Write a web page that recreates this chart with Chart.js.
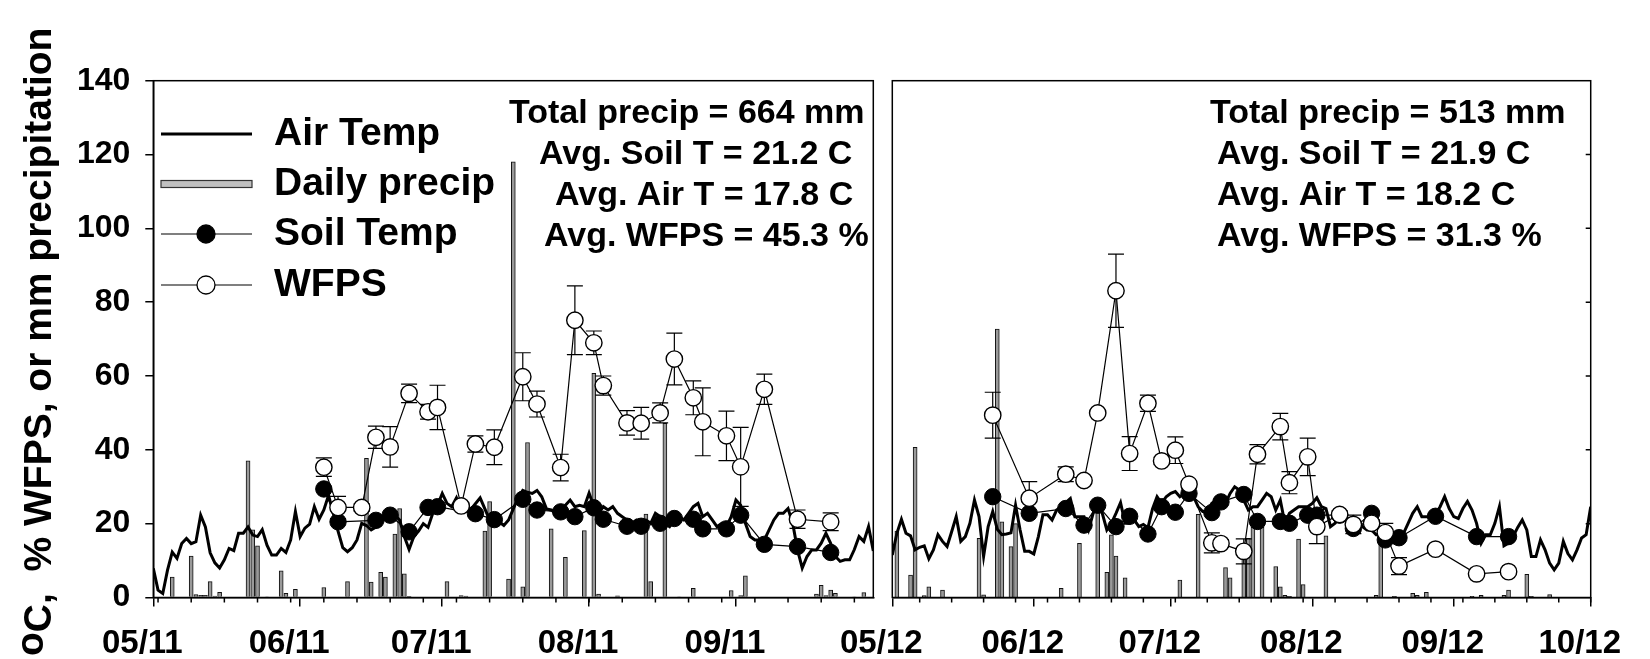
<!DOCTYPE html>
<html>
<head>
<meta charset="utf-8">
<script src="https://cdn.jsdelivr.net/npm/chart.js@4/dist/chart.umd.min.js"></script>
<style>
  html, body { margin: 0; padding: 0; background: #fff; }
  #wrap { position: relative; width: 1650px; height: 659px; }
  #wrap canvas { position: absolute; left: 0; top: 0; }
</style>
</head>
<body>
<div id="wrap">
  <canvas id="c2011" width="1650" height="659"></canvas>
  <canvas id="c2012" width="1650" height="659"></canvas>
</div>
<script>
// day 0 = May 1 of each year
const airTemp2011 = [7.9,2.0,1.1,7.4,12.3,10.6,14.6,16.0,14.6,15.1, 22.3,19.1,12.1,9.4,8.0,10.2,13.3,12.7,17.4,17.4,
  19.1,16.9,16.5,18.4,14.2,11.5,11.5,13.3,12.2,15.6, 23.3,16.5,18.8,19.9,24.6,21.2,23.7,27.7,22.8,18.0,
  13.5,12.4,13.5,15.6,20.1,19.5,18.3,19.1,20.5,21.8, 22.7,22.3,21.0,16.5,13.0,16.5,18.0,20.0,19.0,22.8,
  25.0,28.2,25.5,24.6,27.0,23.8,25.2,23.8,25.4,27.0, 24.0,21.0,19.5,20.5,19.5,21.0,24.0,27.0,29.0,28.5,
  28.2,29.0,27.3,24.0,23.7,22.8,23.5,25.0,26.4,24.6, 25.0,24.6,28.3,24.6,22.8,24.6,23.7,24.6,22.8,21.9,
  21.0,20.1,21.0,20.1,21.0,20.1,22.8,21.9,20.1,19.2, 21.0,21.9,21.0,22.8,24.6,25.5,21.9,22.8,21.0,19.2,
  20.1,19.2,21.9,26.4,25.0,20.1,16.5,15.6,15.6,15.6, 18.3,21.0,22.8,22.8,24.1,20.0,12.9,8.0,11.1,12.9,
  12.9,14.7,17.4,14.7,11.1,9.8,10.2,10.2,13.0,16.5, 15.2,19.2,12.6];
const airTemp2012 = [11.5,17.4,21.2,17.4,16.7,12.9,13.6,14.0,10.5,12.9, 17.0,15.2,13.8,17.8,21.9,15.2,16.5,20.1,26.4,21.9,
  11.1,19.2,23.3,18.5,17.0,17.2,17.5,25.0,18.3,12.5, 12.5,11.8,16.5,22.4,22.4,21.0,23.7,24.6,25.7,26.8,
  21.9,21.9,21.9,18.3,22.8,25.5,22.8,18.3,20.1,22.8, 25.7,20.1,20.1,21.0,19.2,19.8,18.9,24.0,27.3,25.5,
  27.3,28.2,28.7,27.3,28.2,27.3,27.3,24.6,23.3,23.3, 25.5,26.4,24.6,25.5,28.2,30.0,29.1,26.4,23.7,24.6,
  24.6,26.4,28.2,27.3,23.7,26.4,20.1,22.8,23.7,24.6, 24.6,24.6,25.5,27.0,24.6,24.1,19.2,20.1,21.9,22.8,
  21.0,21.9,21.0,19.2,18.3,18.3,17.0,17.0,16.5,15.6, 14.7,15.6,17.4,20.1,22.8,24.6,21.9,21.9,21.9,22.5,
  24.6,27.3,24.1,21.9,21.4,24.1,26.0,23.7,20.1,14.7, 17.0,17.0,20.1,24.6,14.0,14.7,16.5,19.0,21.0,18.3,
  11.1,11.1,15.6,12.9,9.3,7.5,9.3,15.2,11.9,10.2, 12.9,16.1,17.0,24.6];

const precipDays2011 = [4,8,9,10,11,12,13,14,20,21,22,24,27,28,30,36,41,45,46,48,49,51,52,53,54,62,65,66,70,71,
  75,76,78,79,84,87,91,93,94,98,104,105,108,111,114,122,124,125,140,141,142,143,144,148,150];
const precip2011 = [5.5,11.2,0.8,0.6,0.6,4.3,0.4,1.4,37,18.3,14,0.2,7.2,1.1,2.2,2.7,4.3,37.7,4.2,6.8,5.5,17.2,24.1,6.4,0.3,4.3,0.5,0.4,18,26,
  5,118,2.9,42,18.6,10.9,18.1,60.7,0.9,0.45,22.6,4.3,47.2,0.2,2.5,1.9,0.5,5.9,0.9,3.3,0.5,2.0,1.1,0.2,1.3];
const precipDays2012 = [1,4,5,7,8,11,19,20,23,24,26,27,37,41,45,47,48,49,51,63,67,73,74,77,78,79,81,84,85,86,87,89,90,
  95,106,107,110,114,115,117,127,129,134,135,139,140,144];
const precip2012 = [18,6.1,40.7,0.5,2.9,2.0,16,0.7,72.7,20.5,13.8,20,2.5,14.7,26.7,6.8,17,11.2,5.3,4.7,22.5,8.1,5.3,11,16,19,19,8.4,2.9,0.6,0.3,15.8,3.5,
  16.7,0.6,16,0.3,1.1,0.6,1.4,0.3,0.6,0.6,2,6.3,0.3,0.8];

const sampleDays2011 = [36,39,44,47,50,54,58,60,65,68,72,78,81,86,89,93,95,100,103,107,110,114,116,121,124,129,136,143];
const soilTemp2011 = [29.4,20.5,null,20.9,22.3,17.8,24.4,24.6,null,22.7,21.1,26.6,23.7,23.2,21.9,24.3,21.2,19.3,19.3,20.1,21.4,21.2,18.6,18.6,22.3,14.4,13.8,12.2];
const wfps2011 = [35.3,24.4,24.4,43.4,40.8,55.3,50.3,51.5,24.8,41.6,40.7,59.8,52.4,35.2,75.1,69.0,57.4,47.3,47.2,50.0,64.6,54.1,47.6,43.8,35.4,56.4,21.2,20.5];
const wfpsErr2011 = [2.5,3,1,3,5.5,2.5,2,6,1,2.2,4.7,6.5,3.5,3.6,9.3,3.2,2.6,3.3,4.3,2.7,7,4.6,9.2,6.7,10.7,4.1,2.5,2.4];

const sampleDays2012 = [22,30,38,42,45,49,52,56,59,62,65,70,72,77,80,85,87,91,93,98,101,105,108,111,119,128,135];
const soilTemp2012 = [27.3,22.8,24.1,19.6,25.0,19.2,22.0,17.2,24.6,23.1,28.2,23.0,25.9,27.9,20.6,20.6,20.1,22.3,22.3,22.3,18.7,22.8,15.6,16.2,22.0,16.5,16.5];
const wfps2012 = [49.4,26.9,33.4,31.7,50.0,83.1,39.0,52.6,37.0,39.9,30.7,14.8,14.6,12.5,38.8,46.3,31.1,38.1,19.2,22.5,19.8,20.1,17.6,8.5,13.1,6.4,7.0];
const wfpsErr2012 = [6.2,4.5,2,0,0,9.9,4.6,2.2,1,3.6,1,2.7,1,3.4,2.6,3.6,3,5.1,4.6,1,2.5,1,2.5,2.3,0,0,0];

const monthDays2011 = [0,31,61,92,123];
const monthLabels2011 = ['05/11','06/11','07/11','08/11','09/11'];
const monthDays2012 = [0,31,61,92,123,153];
const monthLabels2012 = ['05/12','06/12','07/12','08/12','09/12','10/12'];

const notes2011 = ['Total precip = 664 mm', 'Avg. Soil T = 21.2 C', 'Avg. Air T = 17.8 C', 'Avg. WFPS = 45.3 %'];
const notes2012 = ['Total precip = 513 mm', 'Avg. Soil T = 21.9 C', 'Avg. Air T = 18.2 C', 'Avg. WFPS = 31.3 %'];
const yTitle = ['o', 'C,  % WFPS, or mm precipitation'];

const FONT = "'Liberation Sans', Arial, sans-serif";
const bold = (px) => 'bold ' + px + 'px ' + FONT;

const panelDecor = {
  id: 'panelDecor',
  beforeDatasetDraw(chart, args, o) {
    const d = chart.data.datasets[args.index];
    if (d.label !== 'WFPS') return;
    const ctx = chart.ctx, ys = chart.scales.y;
    ctx.save();
    ctx.strokeStyle = '#000';
    ctx.lineWidth = 1.2;
    args.meta.data.forEach((pt, i) => {
      const e = o.errors[i];
      if (!e) return;
      const v = d.data[i].y;
      const y1 = ys.getPixelForValue(v + e), y2 = ys.getPixelForValue(v - e);
      ctx.beginPath();
      ctx.moveTo(pt.x, y1); ctx.lineTo(pt.x, y2);
      ctx.moveTo(pt.x - 8, y1); ctx.lineTo(pt.x + 8, y1);
      ctx.moveTo(pt.x - 8, y2); ctx.lineTo(pt.x + 8, y2);
      ctx.stroke();
    });
    ctx.restore();
  },
  afterDraw(chart, args, o) {
    const ctx = chart.ctx, a = chart.chartArea;
    const xs = chart.scales.x, ys = chart.scales.y;
    ctx.save();
    ctx.strokeStyle = '#000';
    ctx.lineWidth = 1.5;
    ctx.strokeRect(a.left, a.top, a.right - a.left, a.bottom - a.top);

    // weekly minor ticks
    ctx.beginPath();
    for (let d = o.weekStart; d <= xs.max; d += 7) {
      const px = xs.getPixelForValue(d);
      ctx.moveTo(px, a.bottom); ctx.lineTo(px, a.bottom + 5);
    }
    ctx.stroke();

    if (o.rightTicks) {
      ctx.beginPath();
      for (let v = 20; v < 140; v += 20) {
        const py = ys.getPixelForValue(v);
        ctx.moveTo(a.right - 5, py); ctx.lineTo(a.right, py);
      }
      ctx.stroke();
    }

    // summary notes
    ctx.fillStyle = '#000';
    ctx.font = bold(34);
    ctx.textAlign = 'left';
    ctx.textBaseline = 'middle';
    o.notes.forEach((t, i) => ctx.fillText(t, o.noteX[i], 114 + i * 41));

    if (o.legend) {
      const rows = [134, 184, 234, 285];
      const x0 = 161, x1 = 252, xm = 206;
      chart.data.datasets.forEach((d, i) => {
        const y = rows[i];
        ctx.strokeStyle = '#000';
        if (d.type === 'bar') {
          ctx.fillStyle = '#c0c0c0';
          ctx.fillRect(x0, y - 3.5, x1 - x0, 7);
          ctx.lineWidth = 1.2;
          ctx.strokeStyle = '#333';
          ctx.strokeRect(x0, y - 3.5, x1 - x0, 7);
        } else {
          ctx.lineWidth = d.borderWidth;
          ctx.beginPath(); ctx.moveTo(x0, y); ctx.lineTo(x1, y); ctx.stroke();
          if (d.pointRadius) {
            ctx.beginPath(); ctx.arc(xm, y, 9, 0, Math.PI * 2);
            ctx.fillStyle = d.pointBackgroundColor; ctx.fill();
            ctx.lineWidth = 1.3; ctx.stroke();
          }
        }
        ctx.fillStyle = '#000';
        ctx.font = bold(39);
        ctx.fillText(d.label, 274, y);
      });

      // y axis title, read bottom to top
      ctx.translate(51, 656);
      ctx.rotate(-Math.PI / 2);
      ctx.textBaseline = 'alphabetic';
      ctx.font = bold(39);
      ctx.fillText(yTitle[0], 0, -8);
      ctx.fillText(yTitle[1], ctx.measureText(yTitle[0]).width, 0);
    }
    ctx.restore();
  }
};

function makePanel(id, p) {
  const datasets = [
    { label: 'Air Temp', type: 'line', order: 2,
      data: p.air.map((v, i) => ({ x: i, y: v })),
      borderColor: '#000', borderWidth: 3, pointRadius: 0 },
    { label: 'Daily precip', type: 'bar', order: 3,
      data: p.precipDays.map((d, i) => ({ x: d, y: p.precip[i] })),
      backgroundColor: '#9a9a9a', borderColor: '#111', borderWidth: 1, barThickness: 4 },
    { label: 'Soil Temp', type: 'line', order: 1, spanGaps: true,
      data: p.days.map((d, i) => ({ x: d, y: p.soil[i] })),
      borderColor: '#000', borderWidth: 1.2, pointRadius: 8.2,
      pointBackgroundColor: '#000', pointBorderColor: '#000', pointBorderWidth: 1 },
    { label: 'WFPS', type: 'line', order: 0,
      data: p.days.map((d, i) => ({ x: d, y: p.wfps[i] })),
      borderColor: '#000', borderWidth: 1.2, pointRadius: 8.2,
      pointBackgroundColor: '#fff', pointBorderColor: '#000', pointBorderWidth: 1.4 }
  ];
  return new Chart(document.getElementById(id), {
    type: 'line',
    data: { datasets },
    options: {
      responsive: false,
      animation: false,
      devicePixelRatio: 1,
      layout: { padding: p.padding },
      plugins: {
        legend: { display: false },
        tooltip: { enabled: false },
        panelDecor: { errors: p.err, weekStart: p.weekStart, notes: p.notes, noteX: p.noteX,
                      legend: p.showY, rightTicks: !p.showY }
      },
      scales: {
        x: {
          type: 'linear', min: 0, max: p.maxDay, offset: false,
          grid: { offset: false, drawOnChartArea: false, color: '#000', lineWidth: 1.5, tickLength: 9 },
          border: { color: '#000', width: 1.5 },
          afterBuildTicks: s => { s.ticks = p.monthDays.map(v => ({ value: v })); },
          afterFit: s => { s.height = 61.5; },
          ticks: { autoSkip: false, maxRotation: 0, labelOffset: -11, padding: 18, color: '#000',
                   font: { family: FONT, size: 33, weight: 'bold' },
                   callback: (v, i) => p.monthLabels[i] }
        },
        y: {
          min: 0, max: 140, display: p.showY,
          grid: { drawOnChartArea: false, color: '#000', lineWidth: 1.5, tickLength: 8 },
          border: { color: '#000', width: 1.5 },
          afterFit: s => { if (p.showY) s.width = 153.3; },
          ticks: { stepSize: 20, padding: 15, color: '#000', font: { family: FONT, size: 32, weight: 'bold' } }
        }
      }
    },
    plugins: [panelDecor]
  });
}

makePanel('c2011', {
  air: airTemp2011, precipDays: precipDays2011, precip: precip2011,
  days: sampleDays2011, soil: soilTemp2011, wfps: wfps2011, err: wfpsErr2011,
  monthDays: monthDays2011, monthLabels: monthLabels2011, maxDay: 152, weekStart: 1,
  notes: notes2011, noteX: [509, 539, 555, 544], showY: true,
  padding: { left: 0, right: 776.7, top: 80.7, bottom: 0 }
});
makePanel('c2012', {
  air: airTemp2012, precipDays: precipDays2012, precip: precip2012,
  days: sampleDays2012, soil: soilTemp2012, wfps: wfps2012, err: wfpsErr2012,
  monthDays: monthDays2012, monthLabels: monthLabels2012, maxDay: 153, weekStart: 6,
  notes: notes2012, noteX: [1210, 1217, 1217, 1217], showY: false,
  padding: { left: 892.3, right: 38.3, top: 80.7, bottom: 0 }
});
</script>
</body>
</html>
